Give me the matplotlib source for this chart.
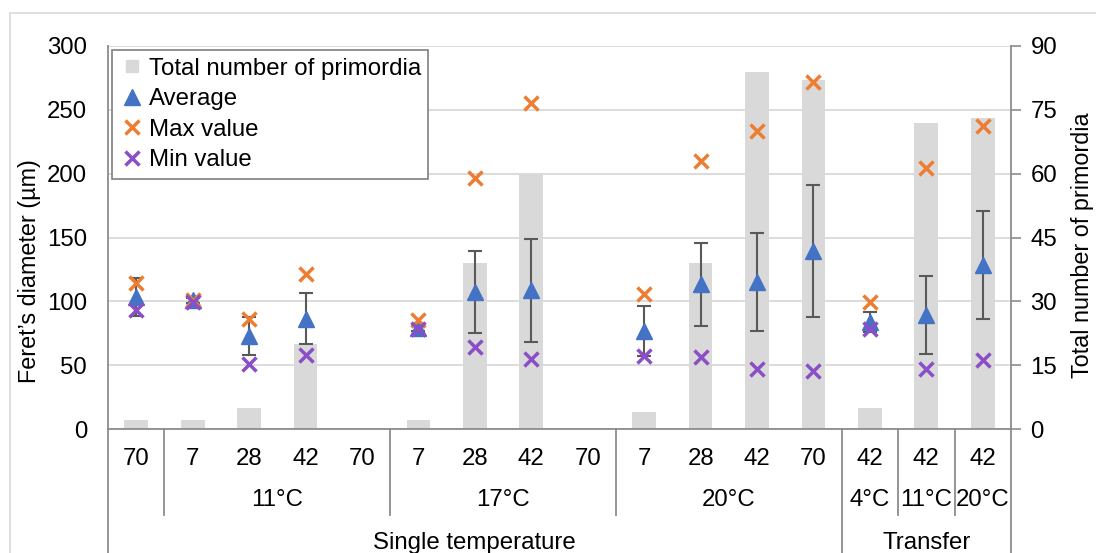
import numpy as np
import matplotlib
matplotlib.use('Agg')
import matplotlib.pyplot as plt
from matplotlib.lines import Line2D
from matplotlib.patches import Rectangle

plt.rcParams['font.family'] = ['Liberation Sans', 'DejaVu Sans']

# days for each sample, grouped by temperature and treatment
days = ['70', '7', '28', '42', '70', '7', '28', '42', '70', '7', '28', '42', '70', '42', '42', '42']
temp_groups = [('', 0, 0), ('11°C', 1, 4), ('17°C', 5, 8), ('20°C', 9, 12),
               ('4°C', 13, 13), ('11°C', 14, 14), ('20°C', 15, 15)]
treat_groups = [('Single temperature', 0, 12), ('Transfer', 13, 15)]

nan = np.nan
total = [2, 2, 5, 20, 0, 2, 39, 60, 0, 4, 39, 84, 82, 5, 72, 73]
avg = [103.5, 101, 73, 86.5, nan, 79, 107.5, 108.5, nan, 77, 113.5, 115, 139.5, 84, 89, 128.5]
sd = [15, 2, 15, 20, nan, 2, 32, 40.5, nan, 19.5, 32.5, 38.5, 51.5, 8, 30.5, 42]
maxv = [114, 101, 86, 121.5, nan, 85, 196.5, 255.5, nan, 106, 210, 233.5, 271.5, 99.5, 204.5, 237.5]
minv = [93.5, 99.5, 51, 58, nan, 78.5, 64.5, 55, nan, 57.5, 56.5, 47, 45.5, 78.5, 47, 54]

blue = '#4472C4'
orange = '#ED7D31'
purple = '#8A4FC6'
barc = '#D9D9D9'
axc = '#8C8C8C'
fs = 17.3

fig = plt.figure(figsize=(10.96, 5.53), dpi=100)
ax = fig.add_axes([108/1096, 1-429/553, (1011-108)/1096, (429-46)/553])
ax2 = ax.twinx()
ax.set_zorder(ax2.get_zorder() + 1)
ax.patch.set_visible(False)

x = np.arange(len(days))

# bars and grid on the right axis
ax2.bar(x, total, width=0.42, color=barc, zorder=2)
ax2.set_ylim(0, 90)
ax2.set_yticks(np.arange(0, 91, 15))
ax2.yaxis.grid(True, color='#D9D9D9', lw=1.3, zorder=0)
ax2.set_axisbelow(True)

ax.errorbar(x, avg, yerr=sd, fmt='none', ecolor='#595959', elinewidth=1.5,
            capsize=5, capthick=1.5, zorder=3)
ax.plot(x, avg, ls='none', marker='^', ms=12, color=blue, zorder=4)
ax.plot(x, maxv, ls='none', marker='x', ms=10.5, mew=2.5, color=orange, zorder=5)
ax.plot(x, minv, ls='none', marker='x', ms=10.5, mew=2.5, color=purple, zorder=5)

ax.set_xlim(-0.5, len(days) - 0.5)
ax.set_ylim(0, 300)
ax.set_yticks(np.arange(0, 301, 50))
ax.tick_params(axis='y', length=0, labelsize=fs, pad=15)
ax2.tick_params(axis='y', length=7, color=axc, width=1.2, labelsize=fs, pad=7)
ax.set_xticks(x)
ax.set_xticklabels(days, fontsize=fs)
ax.tick_params(axis='x', length=0, pad=14)

for a in (ax, ax2):
    for s in a.spines.values():
        s.set_visible(False)
ax.spines['left'].set_visible(True)
ax.spines['left'].set_color(axc)
ax.spines['bottom'].set_visible(True)
ax.spines['bottom'].set_color(axc)
ax2.spines['right'].set_visible(True)
ax2.spines['right'].set_color(axc)
for s in ('left', 'bottom'):
    ax.spines[s].set_linewidth(1.3)
ax2.spines['right'].set_linewidth(1.3)

# category table below the axis
tr = ax.get_xaxis_transform()
y2 = -71/383
y3 = -114/383
short = -86/383
for name, a, b in temp_groups:
    if name:
        ax.text((a + b) / 2, y2, name, transform=tr, ha='center', va='center', fontsize=fs)
for name, a, b in treat_groups:
    ax.text((a + b) / 2, y3, name, transform=tr, ha='center', va='center', fontsize=fs)

for xb in [0.5, 4.5, 8.5, 13.5, 14.5]:
    ax.plot([xb, xb], [0, short], transform=tr, color=axc, lw=1.3, clip_on=False)
for xb in [-0.5, 12.5, 15.5]:
    ax.plot([xb, xb], [0, -0.4], transform=tr, color=axc, lw=1.3, clip_on=False)

fig.text(30/1096, 1-271/553, 'Feret’s diameter (µm)', rotation=90,
         ha='center', va='center', fontsize=16.8)
fig.text(1082/1096, 1-245/553, 'Total number of primordia', rotation=90,
         ha='center', va='center', fontsize=16.8)

handles = [
    Line2D([], [], ls='none', marker='s', ms=9, color=barc),
    Line2D([], [], ls='none', marker='^', ms=12, color=blue),
    Line2D([], [], ls='none', marker='x', ms=10.5, mew=2.5, color=orange),
    Line2D([], [], ls='none', marker='x', ms=10.5, mew=2.5, color=purple),
]
labels = ['Total number of primordia', 'Average', 'Max value', 'Min value']
leg = fig.legend(handles, labels, loc='upper left', bbox_to_anchor=(112/1096, 1-50/553),
                 fontsize=fs, frameon=True, fancybox=False, framealpha=1,
                 edgecolor='#7F7F7F', handlelength=1.0, handletextpad=0.2,
                 labelspacing=0.35, borderpad=0.32, borderaxespad=0)
leg.get_frame().set_linewidth(1.2)

# chart area border
fig.patches.append(Rectangle((10/1096, -0.1), 1.2, 1.1 - 13/553, transform=fig.transFigure,
                             fill=False, edgecolor='#D9D9D9', lw=1.2))

fig.savefig('out.png', dpi=100)
